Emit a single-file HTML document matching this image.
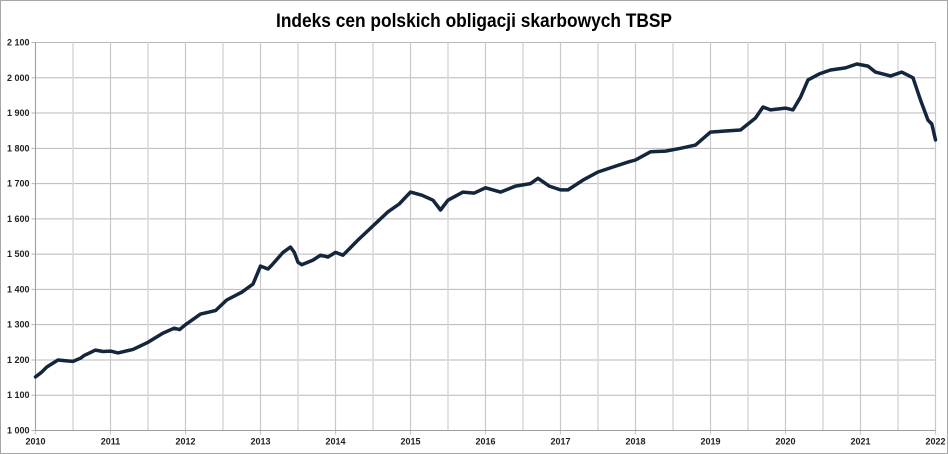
<!DOCTYPE html>
<html><head><meta charset="utf-8"><style>
html,body{margin:0;padding:0;background:#fff;}
svg{display:block;font-family:"Liberation Sans",sans-serif;}
</style></head><body>
<svg id="chart" width="948" height="454" viewBox="0 0 948 454">
<rect x="0.5" y="0.5" width="947" height="453" fill="#fff" stroke="#a6a6a6"/>
<text x="474" y="27" text-anchor="middle" font-size="19" font-weight="bold" fill="#000" textLength="396" lengthAdjust="spacingAndGlyphs">Indeks cen polskich obligacji skarbowych TBSP</text>
<g id="grid"></g>
<g id="axes"></g>
<g id="series"></g>
</svg>
<script>
const years = [2010,2011,2012,2013,2014,2015,2016,2017,2018,2019,2020,2021,2022];
const yTicks = [1000,1100,1200,1300,1400,1500,1600,1700,1800,1900,2000,2100];
const yTickLabels = ["1 000","1 100","1 200","1 300","1 400","1 500","1 600","1 700","1 800","1 900","2 000","2 100"];
const dates = [2010.0,2010.08,2010.15,2010.3,2010.4,2010.5,2010.6,2010.65,2010.8,2010.9,2011.0,2011.1,2011.3,2011.5,2011.7,2011.85,2011.92,2012.0,2012.2,2012.4,2012.55,2012.75,2012.9,2013.0,2013.1,2013.15,2013.3,2013.4,2013.45,2013.5,2013.55,2013.7,2013.8,2013.9,2014.0,2014.1,2014.3,2014.5,2014.7,2014.85,2015.0,2015.15,2015.3,2015.4,2015.5,2015.7,2015.85,2016.0,2016.2,2016.4,2016.6,2016.7,2016.85,2017.0,2017.1,2017.3,2017.5,2017.7,2017.9,2018.0,2018.2,2018.4,2018.6,2018.8,2019.0,2019.2,2019.4,2019.6,2019.7,2019.8,2020.0,2020.1,2020.2,2020.3,2020.45,2020.6,2020.8,2020.95,2021.1,2021.2,2021.4,2021.55,2021.7,2021.8,2021.9,2021.95,2022.0];
const values = [1152,1165,1180,1200,1198,1196,1205,1213,1228,1224,1225,1220,1230,1250,1276,1290,1286,1300,1330,1340,1370,1392,1415,1466,1458,1469,1505,1520,1505,1477,1470,1483,1497,1492,1505,1497,1540,1580,1620,1642,1676,1667,1653,1625,1653,1676,1673,1688,1676,1693,1700,1715,1693,1682,1682,1710,1733,1747,1761,1767,1790,1792,1800,1809,1846,1849,1852,1886,1917,1909,1914,1909,1945,1994,2011,2022,2028,2039,2033,2016,2005,2016,2000,1937,1880,1869,1824];
const NS="http://www.w3.org/2000/svg";
const L=35.5,R=935.5,T=42.5,B=430.5;
const xS=d=>L+(d-2010)/12*(R-L);
const yS=v=>B-(v-1000)/1100*(B-T);
function mk(tag,attrs,parent){const e=document.createElementNS(NS,tag);for(const k in attrs)e.setAttribute(k,attrs[k]);parent.appendChild(e);return e;}
const grid=document.getElementById('grid'),axes=document.getElementById('axes'),series=document.getElementById('series');
yTicks.forEach((v,i)=>{
  const ln=mk('line',{x1:L-4,x2:R,y1:yS(v),y2:yS(v),stroke:'#b8b8b8','stroke-width':1},grid);
  
  
  const t=mk('text',{x:L-6,y:yS(v)+3,'text-anchor':'end','font-size':9,'font-weight':'bold',fill:'#222'},axes);
  t.textContent=yTickLabels[i];
  
  
});
for(let y=2010;y<2022;y++){
  const ln=mk('line',{x1:xS(y+0.5),x2:xS(y+0.5),y1:T,y2:B,stroke:'#d9d9d9','stroke-width':1.5},grid);
  
  
}
years.forEach(y=>{
  const ln=mk('line',{x1:xS(y),x2:xS(y),y1:T,y2:B+4,stroke:'#c8c8c8','stroke-width':1.2},grid);
  
  
  const t=mk('text',{x:xS(y),y:B+14,'text-anchor':'middle','font-size':9,'font-weight':'bold',fill:'#222'},axes);
  t.textContent=String(y);
  
  
});
const xa=mk('line',{x1:L,x2:R,y1:B,y2:B,stroke:'#a0a0a0','stroke-width':1},axes);


const ya=mk('line',{x1:L,x2:L,y1:T,y2:B,stroke:'#a0a0a0','stroke-width':1},axes);


const pts=dates.map((d,i)=>xS(d).toFixed(1)+','+yS(values[i]).toFixed(1)).join(' ');
const pl=mk('polyline',{points:pts,fill:'none',stroke:'#14263d','stroke-width':3.5,'stroke-linejoin':'round','stroke-linecap':'round'},series);


</script>
</body></html>
